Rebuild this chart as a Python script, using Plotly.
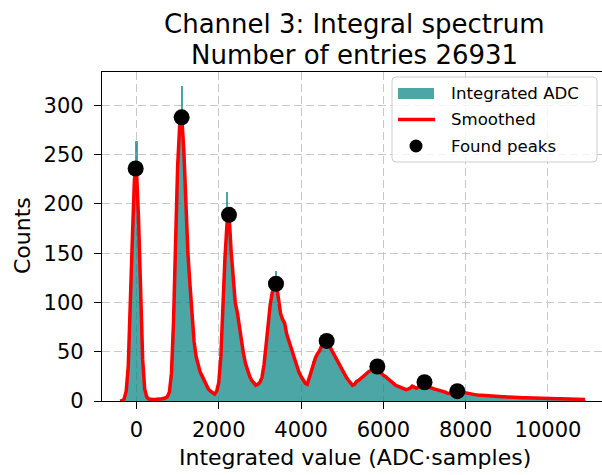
import plotly.graph_objects as go

# ---------------- data ----------------
bin_start = -400
bin_width = 50

hist_counts = [
    0, 0, 1, 8, 32, 88, 170, 228, 264, 182, 100, 40, 11, 3, 2, 1, 2, 1, 2, 3,
    2, 2, 3, 5, 9, 26, 78, 162, 236, 284, 320, 252, 196, 152, 116, 84, 62, 44, 36, 28,
    26, 19, 17, 11, 10, 7, 8, 9, 20, 44, 98, 146, 212, 186, 150, 122, 98, 92, 74, 62,
    46, 39, 30, 26, 20, 19, 15, 18, 18, 25, 36, 58, 79, 99, 108, 120, 132, 98, 90, 82,
    80, 66, 62, 54, 49, 40, 36, 28, 26, 20, 19, 16, 25, 32, 41, 43, 49, 50, 57, 59,
    66, 58, 56, 50, 49, 42, 40, 34, 32, 26, 25, 20, 19, 15, 18, 19, 22, 22, 25, 25,
    29, 29, 32, 31, 34, 40, 30, 29, 25, 26, 22, 22, 18, 19, 15, 16, 13, 14, 11, 12,
    11, 14, 16, 13, 14, 13, 17, 17, 22, 15, 15, 13, 13, 11, 12, 10, 11, 9, 10, 7,
    8, 7, 9, 8, 11, 9, 10, 8, 9, 7, 8, 6, 7, 6, 6, 5, 6, 5, 6, 5,
    4, 5, 5, 4, 5, 4, 5, 4, 4, 4, 3, 4, 4, 3, 4, 3, 3, 4, 3, 3,
    3, 3, 3, 2, 3, 3, 2, 3, 3, 2, 3, 2, 3, 2, 2, 3, 2, 2, 2, 2,
    2, 2, 2, 2, 2, 1, 1,
]

smoothed = [
    0, 0.3, 2, 10, 35, 90, 165, 225, 235, 185, 105, 42, 12, 4, 2, 1.5, 1.5, 1.5, 2, 2,
    2, 2.5, 3, 4.5, 9, 28, 80, 160, 238, 280, 288, 255, 200, 150, 118, 85, 60, 45, 35, 29,
    25, 20, 16, 12, 10, 8, 7, 10, 19, 45, 100, 145, 180, 189, 152, 120, 100, 90, 76, 60,
    48, 38, 31, 25, 21, 18, 16, 17, 19, 24, 37, 57, 80, 98, 110, 118, 119, 100, 89, 83,
    79, 68, 61, 55, 48, 41, 35, 29, 25, 21, 18, 17, 24, 33, 40, 44, 48, 51, 56, 60,
    61, 59, 55, 51, 48, 43, 39, 35, 31, 27, 24, 21, 18, 16, 17, 20, 21, 23, 24, 26,
    28, 30, 31, 32, 33, 35, 31, 28, 26, 25, 23, 21, 19, 18, 16, 15, 14, 13, 12, 11.5,
    12, 13, 15, 14, 13, 14, 16, 18, 19, 16, 14, 13.5, 12.5, 12, 11.5, 11, 10.5, 10, 9, 8,
    7.5, 7.5, 8, 9, 10, 9.5, 9, 8.5, 8, 7.5, 7, 6.8, 6.5, 6.2, 6, 5.8, 5.5, 5.3, 5.2, 5,
    4.9, 4.8, 4.8, 4.6, 4.5, 4.5, 4.3, 4.2, 4, 3.9, 3.8, 3.7, 3.6, 3.4, 3.3, 3.3, 3.2, 3.2, 3.1, 3.1,
    3, 3, 2.9, 2.9, 2.8, 2.8, 2.7, 2.8, 2.7, 2.6, 2.6, 2.5, 2.5, 2.4, 2.4, 2.3, 2.3, 2.2, 2.2, 2.1,
    2.1, 2, 2, 1.9, 1.8, 1.7, 1.5,
]

peak_x = [-20, 1098, 2248, 3390, 4622, 5853, 7000, 7797]
peak_y = [236, 288, 189, 119, 61, 35, 19, 10]

x_ticks = [0, 2000, 4000, 6000, 8000, 10000]
x_tick_labels = ["0", "2000", "4000", "6000", "8000", "10000"]
y_ticks = [0, 50, 100, 150, 200, 250, 300]
y_tick_labels = ["0", "50", "100", "150", "200", "250", "300"]

title_lines = ["Channel 3: Integral spectrum", "Number of entries 26931"]
x_title = "Integrated value (ADC·samples)"
y_title = "Counts"
legend_labels = ["Integrated ADC", "Smoothed", "Found peaks"]

bin_centers = [bin_start + i * bin_width for i in range(len(hist_counts))]

# ---------------- figure ----------------
TEAL = "rgba(0,128,128,0.7)"
FONT = "DejaVu Sans"
W, H = 602, 475
ML, MR, MT, MB = 102, 0, 72, 74
PW, PH = W - ML - MR, H - MT - MB


def px(xp):
    return (xp - ML) / PW


def py(yp):
    return (H - MB - yp) / PH


fig = go.Figure()
fig.add_trace(go.Bar(
    x=bin_centers, y=hist_counts, width=bin_width,
    marker=dict(color=TEAL, line=dict(width=0)),
    name=legend_labels[0], showlegend=False,
))
fig.add_trace(go.Scatter(
    x=bin_centers, y=smoothed, mode="lines",
    line=dict(color="red", width=3.5),
    name=legend_labels[1], showlegend=False,
))
fig.add_trace(go.Scatter(
    x=peak_x, y=peak_y, mode="markers",
    marker=dict(color="black", size=16),
    name=legend_labels[2], showlegend=False,
))

axis_common = dict(
    showline=True, linecolor="black", linewidth=1.2,
    ticks="outside", ticklen=7, tickwidth=1.2, tickcolor="black",
    showgrid=True, gridcolor="#c8c8c8", gridwidth=1, griddash="8px,4px",
    zeroline=False,
    tickfont=dict(family=FONT, size=21, color="black"),
)

fig.update_layout(
    width=W, height=H,
    margin=dict(l=ML, r=MR, t=MT, b=MB),
    paper_bgcolor="white", plot_bgcolor="white",
    bargap=0,
    font=dict(family=FONT, color="black"),
    xaxis=dict(range=[-838, 11313], tickvals=x_ticks, ticktext=x_tick_labels,
               mirror=True, ticklabelstandoff=3, **axis_common),
    yaxis=dict(range=[0, 334], tickvals=y_ticks, ticktext=y_tick_labels,
               mirror=False, ticklabelstandoff=6, **axis_common),
    showlegend=False,
)

ann = []
# titles
ann.append(dict(text=title_lines[0], x=px(354), y=py(24), xref="paper", yref="paper",
                xanchor="center", yanchor="middle", showarrow=False,
                font=dict(family=FONT, size=26, color="black")))
ann.append(dict(text=title_lines[1], x=px(354), y=py(55), xref="paper", yref="paper",
                xanchor="center", yanchor="middle", showarrow=False,
                font=dict(family=FONT, size=26, color="black")))
ann.append(dict(text=x_title, x=px(355), y=py(457), xref="paper", yref="paper",
                xanchor="center", yanchor="middle", showarrow=False,
                font=dict(family=FONT, size=22, color="black")))
ann.append(dict(text=y_title, x=px(22), y=py(236), xref="paper", yref="paper",
                xanchor="center", yanchor="middle", showarrow=False, textangle=-90,
                font=dict(family=FONT, size=22, color="black")))

# manual legend
lx0, lx1, ly0, ly1 = 392, 597, 77, 162
r = 4
rx, ry = r / PW, r / PH
X0, X1, Y0, Y1 = px(lx0), px(lx1), py(ly1), py(ly0)
path = (f"M {X0+rx},{Y0} L {X1-rx},{Y0} Q {X1},{Y0} {X1},{Y0+ry} "
        f"L {X1},{Y1-ry} Q {X1},{Y1} {X1-rx},{Y1} L {X0+rx},{Y1} "
        f"Q {X0},{Y1} {X0},{Y1-ry} L {X0},{Y0+ry} Q {X0},{Y0} {X0+rx},{Y0} Z")
shapes = [
    dict(type="path", path=path, xref="paper", yref="paper",
         fillcolor="rgba(255,255,255,0.8)", line=dict(color="#cccccc", width=1)),
    dict(type="rect", xref="paper", yref="paper", x0=px(398), x1=px(434),
         y0=py(99), y1=py(88), fillcolor=TEAL, line=dict(width=0)),
    dict(type="line", xref="paper", yref="paper", x0=px(398), x1=px(435),
         y0=py(119.5), y1=py(119.5), line=dict(color="red", width=3.5)),
    dict(type="circle", xref="paper", yref="paper", x0=px(416 - 6.5), x1=px(416 + 6.5),
         y0=py(146 + 6.5), y1=py(146 - 6.5), fillcolor="black", line=dict(width=0)),
]
for lab, yy in zip(legend_labels, [93.5, 119.5, 146]):
    ann.append(dict(text=lab, x=px(449), y=py(yy), xref="paper", yref="paper",
                    xanchor="left", yanchor="middle", showarrow=False,
                    font=dict(family=FONT, size=16.6, color="black")))

fig.update_layout(annotations=ann, shapes=shapes)
fig.write_html("out.html")
